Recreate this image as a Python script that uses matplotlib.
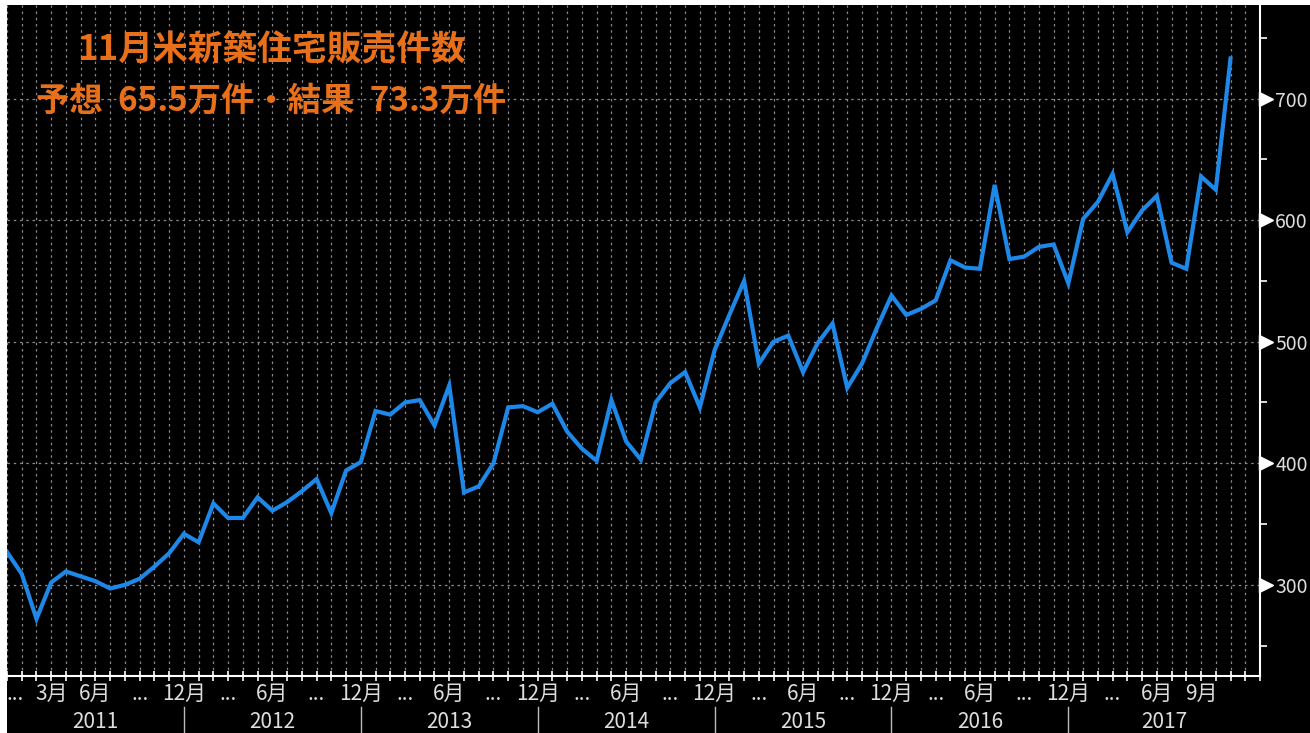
import matplotlib
matplotlib.use("Agg")
import matplotlib.pyplot as plt
from matplotlib.patches import Rectangle
from matplotlib.transforms import blended_transform_factory

# ---- data: US new home sales (thousand, SAAR), Dec 2010 .. Nov 2017 ----
sales = [327,
         309, 272, 302, 311, 307, 303, 297, 300, 305, 315, 326, 342,   # 2011
         335, 367, 355, 355, 372, 361, 368, 377, 387, 359, 394, 401,   # 2012
         443, 440, 450, 452, 431, 464, 376, 381, 400, 446, 447, 442,   # 2013
         449, 426, 412, 402, 452, 418, 403, 450, 466, 475, 446, 493,   # 2014
         522, 550, 482, 500, 505, 475, 499, 515, 462, 482, 511, 538,   # 2015
         522, 527, 534, 567, 561, 560, 629, 568, 570, 578, 580, 548,   # 2016
         601, 615, 638, 590, 608, 620, 565, 560, 636, 625, 733]        # 2017
month_tick_idx = [0, 3, 6, 9, 12, 15, 18, 21, 24, 27, 30, 33, 36, 39, 42, 45, 48,
                  51, 54, 57, 60, 63, 66, 69, 72, 75, 78, 81]
month_tick_lbl = ["...", "3月", "6月", "...", "12月", "...", "6月", "...", "12月",
                  "...", "6月", "...", "12月", "...", "6月", "...", "12月",
                  "...", "6月", "...", "12月", "...", "6月", "...", "12月",
                  "...", "6月", "9月"]
years = ["2011", "2012", "2013", "2014", "2015", "2016", "2017"]
year_bounds = [0, 12, 24, 36, 48, 60, 72, 85]
y_ticks = [300, 400, 500, 600, 700]
y_tick_lbl = ["300", "400", "500", "600", "700"]
y_minor = [250, 350, 450, 550, 650, 750]
title1 = "11月米新築住宅販売件数"
title2 = "予想  65.5万件・結果  73.3万件"

W, H = 1310, 733
fig = plt.figure(figsize=(W / 100, H / 100), dpi=100, facecolor="black")
# white strips at top and left (screenshot border)
fig.patches.append(Rectangle((0, 0), 7 / W, 1, transform=fig.transFigure,
                             facecolor="white", edgecolor="none", zorder=-5))
fig.patches.append(Rectangle((0, 1 - 5 / H), 1, 5 / H, transform=fig.transFigure,
                             facecolor="white", edgecolor="none", zorder=-5))

L, R, B, T = 7, 1260, 676, 5
ax = fig.add_axes([L / W, (H - B) / H, (R - L) / W, (B - T) / H])
ax.set_facecolor("black")

x = list(range(len(sales)))
ax.plot(x, sales, color="#1E88E8", lw=3.0, solid_joinstyle="miter", zorder=5)

ax.set_xlim(0, 85)
ax.set_ylim(225, 777)

# grid
grid_kw = dict(color="#8a8a8a", lw=0.9, ls=(0, (2, 3)), zorder=1)
for i in range(0, 86):
    ax.axvline(i, **grid_kw)
for v in y_ticks:
    ax.axhline(v, **grid_kw)

# spines
for s in ["left", "top"]:
    ax.spines[s].set_visible(False)
for s in ["right", "bottom"]:
    ax.spines[s].set_color("white")
    ax.spines[s].set_linewidth(1.5)

lab_font = ["Liberation Sans Narrow", "Noto Sans CJK JP"]

# y axis on right
ax.yaxis.tick_right()
ax.set_yticks(y_ticks, labels=y_tick_lbl, fontfamily=lab_font, fontsize=14,
              color="#dddddd")
ax.set_yticks(y_minor, minor=True)
ax.tick_params(axis="y", which="major", length=0, pad=11)
ax.tick_params(axis="y", which="minor", length=5, width=1.2, color="white",
               direction="out")
ty = blended_transform_factory(ax.transAxes, ax.transData)
ax.plot([1.005] * len(y_ticks), y_ticks, marker=">", ms=10, color="white", ls="none",
        transform=ty, clip_on=False, zorder=6)

# x axis
ax.set_xticks(range(0, 86), minor=True)
ax.set_xticks([])
ax.tick_params(axis="x", which="minor", length=7, width=1.2, color="white",
               direction="inout")
tx = blended_transform_factory(ax.transData, ax.transAxes)
for i, lbl in zip(month_tick_idx, month_tick_lbl):
    xi = i + 0.55 if i == 0 else i
    ax.text(xi, -0.027, lbl, transform=tx, ha="center", va="center",
            color="#dddddd", fontsize=15, family=lab_font)
for k, yr in enumerate(years):
    c = (year_bounds[k] + year_bounds[k + 1]) / 2
    ax.text(c, -0.069, yr, transform=tx, ha="center", va="center",
            color="#dddddd", fontsize=15, family=lab_font)
for b in year_bounds[1:-1]:
    ax.plot([b, b], [-0.046, -0.09], transform=tx, color="#bbbbbb", lw=1,
            clip_on=False)

# title
title_font = ["Noto Sans CJK JP", "DejaVu Sans"]
fig.text(271 / W, 1 - 50 / H, title1, ha="center", va="center", color="#E8701A",
         fontsize=25, fontweight="bold", family=title_font)
fig.text(271 / W, 1 - 101 / H, title2, ha="center", va="center", color="#E8701A",
         fontsize=24, fontweight="bold", family=title_font)

fig.savefig("out.png", dpi=100, facecolor=fig.get_facecolor())
